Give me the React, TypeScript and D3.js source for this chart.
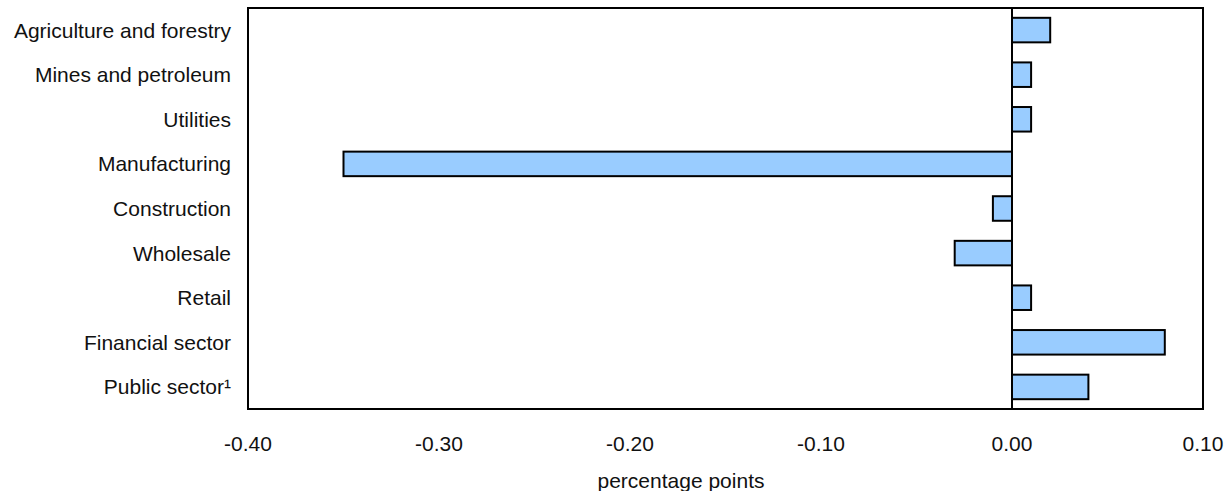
import React from "react";
import * as d3 from "d3";

const categories = [
  "Agriculture and forestry",
  "Mines and petroleum",
  "Utilities",
  "Manufacturing",
  "Construction",
  "Wholesale",
  "Retail",
  "Financial sector",
  "Public sector¹",
];
const values = [0.02, 0.01, 0.01, -0.35, -0.01, -0.03, 0.01, 0.08, 0.04];
const tickValues = [-0.4, -0.3, -0.2, -0.1, 0.0, 0.1];

const W = 1230;
const H = 491;
const left = 248;
const right = 1203;
const top = 8;
const bottom = 409;

export default function App() {
  const x = d3.scaleLinear().domain([-0.4, 0.1]).range([left, right]);
  const y = d3
    .scaleBand<string>()
    .domain(categories)
    .range([top, bottom])
    .paddingInner(0.45)
    .paddingOuter(0.22);
  const font = "'Liberation Sans', Arial, sans-serif";
  const fmt = (t: number) => d3.format(".2f")(t).replace("−", "-");
  return (
    <svg
      width={W}
      height={H}
      style={{ position: "absolute", left: 0, top: 0 }}
      fontFamily={font}
    >
      <rect x={0} y={0} width={W} height={H} fill="#fff" />
      {categories.map((c, i) => {
        const v = values[i];
        const x0 = x(Math.min(0, v));
        const x1 = x(Math.max(0, v));
        return (
          <rect
            key={c}
            x={x0}
            y={y(c)!}
            width={x1 - x0}
            height={y.bandwidth()}
            fill="#99ccff"
            stroke="#000"
            strokeWidth={2}
          />
        );
      })}
      <line x1={x(0)} x2={x(0)} y1={top} y2={bottom} stroke="#000" strokeWidth={2} />
      <rect
        x={left}
        y={top}
        width={right - left}
        height={bottom - top}
        fill="none"
        stroke="#000"
        strokeWidth={2}
      />
      {categories.map((c) => (
        <text
          key={c}
          x={231}
          y={y(c)! + y.bandwidth() / 2}
          textAnchor="end"
          dominantBaseline="central"
          fontSize={21}
          fill="#111"
        >
          {c}
        </text>
      ))}
      {tickValues.map((t) => (
        <text
          key={t}
          x={x(t)}
          y={443}
          textAnchor="middle"
          dominantBaseline="central"
          fontSize={21}
          fill="#111"
        >
          {fmt(t)}
        </text>
      ))}
      <text
        x={681}
        y={480}
        textAnchor="middle"
        dominantBaseline="central"
        fontSize={21}
        fill="#111"
      >
        percentage points
      </text>
    </svg>
  );
}
